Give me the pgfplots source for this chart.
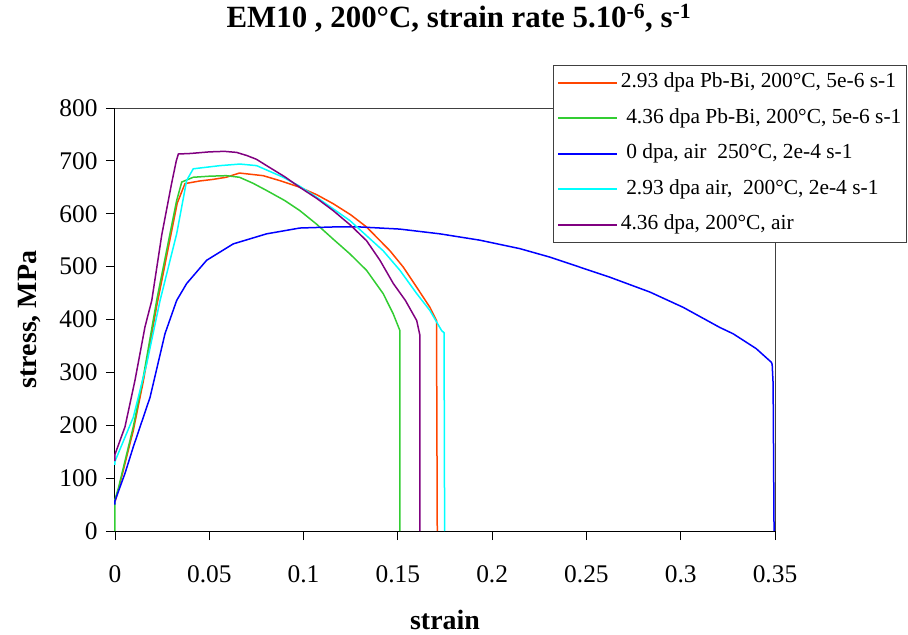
\documentclass[border=0pt]{standalone}
\usepackage{pgfplots}
\pgfplotsset{compat=1.18}
\usepackage{fontspec}
\setmainfont{Liberation Serif}
\definecolor{cRed}{RGB}{255,69,0}
\definecolor{cGreen}{RGB}{50,205,50}
\definecolor{cBlue}{RGB}{0,0,255}
\definecolor{cCyan}{RGB}{0,255,255}
\definecolor{cPurple}{RGB}{128,0,128}
\begin{document}
\begin{tikzpicture}
\path[use as bounding box] (-115bp,-104bp) rectangle (793bp,531bp);
\begin{axis}[
  at={(0,0)}, anchor=south west,
  scale only axis, width=660bp, height=423bp,
  xmin=0, xmax=0.35, ymin=0, ymax=800,
  xtick={0,0.05,0.1,0.15,0.2,0.25,0.3,0.35},
  ytick={0,100,200,300,400,500,600,700,800},
  scaled x ticks=false,
  xticklabel style={/pgf/number format/fixed, /pgf/number format/precision=2, yshift=-22bp},
  yticklabel style={xshift=-5bp},
  /pgf/number format/assume math mode=true,
  ticklabel style={font=\fontsize{25.5}{25.5}\selectfont},
  axis x line*=bottom, axis y line*=left,
  axis line style={black, line width=1bp, -},
  tick align=outside, major tick length=9bp,
  tick style={black, line width=0.9bp},
  xlabel={strain}, ylabel={stress, MPa},
  label style={font=\fontsize{28}{28}\selectfont\bfseries},
  xlabel style={at={(axis description cs:0.5,-0.21)}, anchor=center},
  ylabel style={at={(axis description cs:-0.129,0.5)}, anchor=center},
  title={EM10 , 200°C, strain rate 5.10\textsuperscript{-6}, s\textsuperscript{-1}},
  title style={at={(axis description cs:0.521,1.177)}, anchor=base, font=\fontsize{31}{31}\selectfont\bfseries},
  clip=false,
  legend cell align=left,
  legend image code/.code={\path (0bp,0bp) -- (59bp,0bp); \draw[#1] (7bp,0bp) -- (59bp,0bp);},
  legend style={at={(axis description cs:0.6636,1.1017)}, anchor=north west,
    draw=black!75, fill=white, line width=0.9bp,
    font=\fontsize{21.5}{21.5}\selectfont,
    inner xsep=4bp, inner ysep=6.5bp,
    nodes={inner sep=1bp, text height=15bp, text depth=5bp},
    row sep=13.5bp, column sep=1.5bp},
  every axis plot/.append style={line width=1.5bp},
]
\addplot[cRed, forget plot] coordinates {
(0,55)(0.0018,78)(0.0097,190)(0.015,283)(0.0221,425)(0.0274,520)(0.033,620)(0.0371,657)(0.045,662)(0.052,665)(0.059,669)(0.066,677)(0.0786,672)(0.088,662)(0.098,650)(0.107,636)(0.1157,619)(0.125,598)(0.1334,575)(0.1458,530)(0.1529,499)(0.160,461)(0.167,423)(0.1705,398)(0.1709,0)};
\addplot[cGreen, forget plot] coordinates {
(0,0)(0,60)(0.0018,81)(0.0097,197)(0.015,291)(0.0221,436)(0.0274,531)(0.0327,625)(0.0354,660)(0.0415,669)(0.05,671)(0.059,672)(0.066,669)(0.073,658)(0.0804,644)(0.09,625)(0.098,606)(0.107,580)(0.1157,552)(0.1246,524)(0.1334,493)(0.1422,449)(0.1475,411)(0.1511,379)(0.1511,0)};
\addplot[cBlue, forget plot] coordinates {
(0,50)(0,57)(0.0053,109)(0.0097,159)(0.0186,253)(0.0265,373)(0.0327,436)(0.038,468)(0.0486,512)(0.0627,543)(0.0804,562)(0.098,573)(0.1157,575)(0.13,575)(0.151,571)(0.1723,562)(0.1935,550)(0.2147,534)(0.2306,518)(0.2465,499)(0.2624,480)(0.2836,452)(0.3013,423)(0.3207,385)(0.3278,373)(0.34,345)(0.3481,319)(0.3485,315)(0.349,279)(0.3495,0)};
\addplot[cCyan, forget plot] coordinates {
(0,125)(0,132)(0.0097,215)(0.0168,316)(0.0239,436)(0.0327,562)(0.038,663)(0.0415,685)(0.0557,691)(0.0663,694)(0.0751,691)(0.0892,669)(0.098,652)(0.107,631)(0.1246,587)(0.1422,530)(0.1511,493)(0.160,449)(0.167,417)(0.1732,379)(0.1745,375)(0.1748,0)};
\addplot[cPurple, forget plot] coordinates {
(0,132)(0,145)(0.0053,197)(0.0106,285)(0.0159,386)(0.0195,436)(0.0248,560)(0.030,657)(0.0325,700)(0.0336,713)(0.040,714)(0.050,717)(0.058,718)(0.0645,716)(0.070,710)(0.075,703)(0.0804,691)(0.09,670)(0.098,650)(0.107,629)(0.1157,606)(0.125,578)(0.1334,549)(0.1405,512)(0.1476,468)(0.154,436)(0.160,398)(0.1617,370)(0.1617,0)};
\addlegendimage{cRed, line width=2bp}
\addlegendentry{2.93 dpa Pb-Bi, 200°C, 5e-6 s-1}
\addlegendimage{cGreen, line width=2bp}
\addlegendentry{\ 4.36 dpa Pb-Bi, 200°C, 5e-6 s-1}
\addlegendimage{cBlue, line width=2bp}
\addlegendentry{\ 0 dpa, air\ \ 250°C, 2e-4 s-1}
\addlegendimage{cCyan, line width=2bp}
\addlegendentry{\ 2.93 dpa air,\ \ 200°C, 2e-4 s-1}
\addlegendimage{cPurple, line width=2bp}
\addlegendentry{4.36 dpa, 200°C, air}
\draw[black!75, line width=0.9bp] (rel axis cs:0,1) -- (rel axis cs:1,1) -- (rel axis cs:1,0);
\end{axis}
\end{tikzpicture}
\end{document}
